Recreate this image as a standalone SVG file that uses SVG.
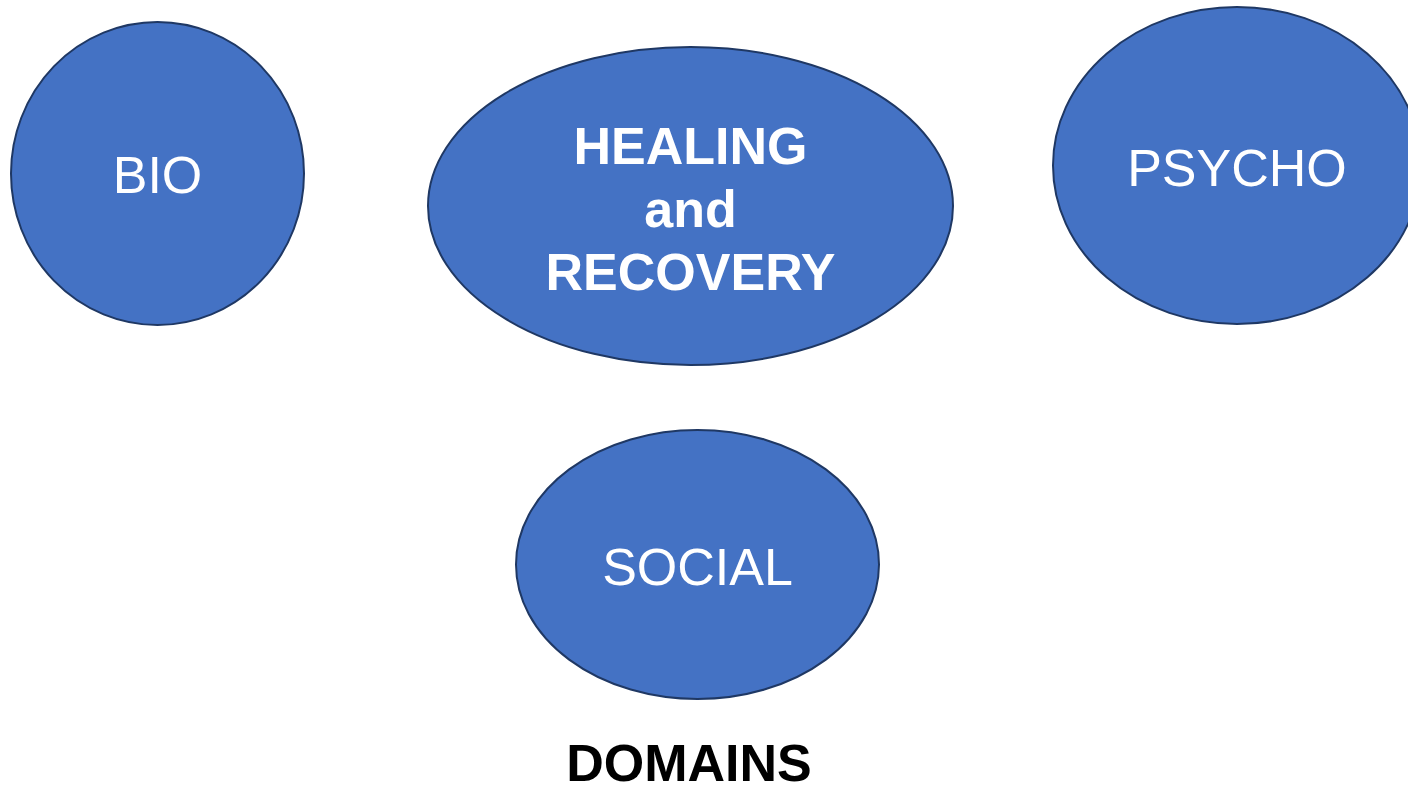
<svg xmlns="http://www.w3.org/2000/svg" width="1408" height="788" viewBox="0 0 1408 788">
<style>
.node{fill:#4472C4;stroke:#1F3864;stroke-width:2}
.lbl{font-family:"Liberation Sans",Arial,sans-serif;font-size:52px;fill:#ffffff;text-anchor:middle}
.b{font-weight:bold}
.title{font-family:"Liberation Sans",Arial,sans-serif;font-size:52px;font-weight:bold;fill:#000000;text-anchor:middle}
</style>
<rect width="1408" height="788" fill="#ffffff"/>
<g id="connectors"></g>
<g id="bio">
<ellipse class="node" cx="157.5" cy="173.5" rx="146.5" ry="151.5"/>
<text class="lbl" x="157.5" y="193">BIO</text>
</g>
<g id="healing">
<ellipse class="node" cx="690.5" cy="206" rx="262.5" ry="159"/>
<text class="lbl b" x="690.5" y="164">HEALING</text>
<text class="lbl b" x="690.5" y="227">and</text>
<text class="lbl b" x="690.5" y="290">RECOVERY</text>
</g>
<g id="psycho">
<ellipse class="node" cx="1237" cy="165.5" rx="184" ry="158.5"/>
<text class="lbl" x="1237" y="186">PSYCHO</text>
</g>
<g id="social">
<ellipse class="node" cx="697.5" cy="564.5" rx="181.5" ry="134.5"/>
<text class="lbl" x="697.5" y="585">SOCIAL</text>
</g>
<g id="domains">
<text class="title" x="689" y="781">DOMAINS</text>
</g>
</svg>
